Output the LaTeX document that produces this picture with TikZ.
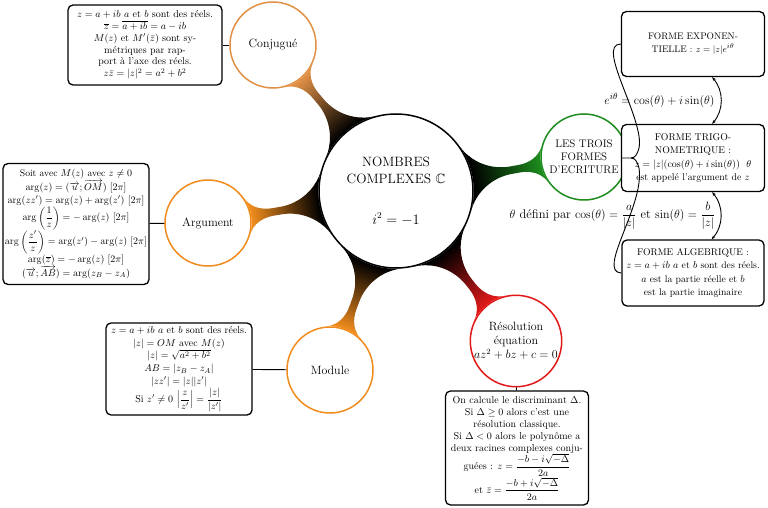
\documentclass[tikz,border=0pt]{standalone}
\usepackage{amsmath,amssymb}
\usetikzlibrary{mindmap,backgrounds,arrows.meta}
\definecolor{conjcol}{RGB}{225,145,70}
\definecolor{orcol}{RGB}{240,140,30}
\definecolor{redcol}{RGB}{225,25,25}
\definecolor{greencol}{RGB}{30,140,30}
\tikzset{
  bubble/.style={circle, draw=#1, fill=white, line width=1.5pt, minimum size=86pt, inner sep=0pt, align=center, font=\fontsize{12}{14}\selectfont},
  infobox/.style={draw=black, rounded corners=5pt, line width=1.3pt, fill=white, align=center, inner sep=0.5pt, font=\fontsize{10}{11.8}\selectfont},
  link/.style={line width=0.9pt},
  bar/.style args={#1/#2/#3}{circle connection bar switch color=from (black) to (#1), decoration={start radius=#2, end radius=#3, amplitude=3.5pt, angle=25}}
}
\begin{document}
\begin{tikzpicture}[x=1pt,y=-1pt]
\useasboundingbox (0,0) rectangle (768,508);
% central and concept nodes
\node[bubble=black, minimum size=154pt, font=\fontsize{13.5}{17}\selectfont] (center) at (396,191) {NOMBRES\\COMPLEXES $\mathbb{C}$\\[24pt] $i^2=-1$};
\node[bubble=conjcol] (conj) at (273,45) {Conjugué};
\node[bubble=orcol] (arg) at (208,223) {Argument};
\node[bubble=orcol] (mod) at (330,370) {Module};
\node[bubble=redcol, minimum size=90pt] (res) at (516,341) {Résolution\\équation\\$az^2+bz+c=0$};
\node[bubble=greencol, minimum size=86pt, font=\fontsize{11}{13}\selectfont] (trois) at (584,157) {LES TROIS\\FORMES\\D'ECRITURE};
% connection bars
\begin{scope}[on background layer]
\path (center) to[bar=conjcol/77pt/43pt] (conj);
\path (center) to[bar=orcol/77pt/43pt] (arg);
\path (center) to[bar=orcol/77pt/43pt] (mod);
\path (center) to[bar=redcol/77pt/45pt] (res);
\path (center) to[bar=greencol/77pt/43pt] (trois);
\end{scope}
% boxes
\node[infobox, minimum width=154pt, minimum height=80pt] (conjbox) at (145,45) {$z=a+ib$ $a$ et $b$ sont des réels.\\
$\overline{z} = \overline{a+ib} = a-ib$\\
$M(z)$ et $M'(\bar z)$ sont sy-\\
métriques par rap-\\
port à l'axe des réels.\\
$z\bar z = |z|^2 = a^2+b^2$};
\node[infobox, minimum width=146pt, minimum height=121pt, font=\fontsize{9.6}{12.6}\selectfont] (argbox) at (76,224) {Soit avec $M(z)$ avec $z\neq 0$\\
$\arg(z) = (\overrightarrow{u};\overrightarrow{OM})\ [2\pi]$\\
$\arg(zz') = \arg(z)+\arg(z')\ [2\pi]$\\
$\arg\left(\dfrac{1}{z}\right) = -\arg(z)\ [2\pi]$\\
$\arg\left(\dfrac{z'}{z}\right) = \arg(z')-\arg(z)\ [2\pi]$\\
$\arg(\overline{z}) = -\arg(z)\ [2\pi]$\\
$(\overrightarrow{u};\overrightarrow{AB}) = \arg(z_B - z_A)$};
\node[infobox, minimum width=146pt, minimum height=92pt, font=\fontsize{10}{12.8}\selectfont] (modbox) at (179,369) {$z=a+ib$ $a$ et $b$ sont des réels.\\
$|z| = OM$ avec $M(z)$\\
$|z| = \sqrt{a^2+b^2}$\\
$AB = |z_B - z_A|$\\
$|zz'| = |z||z'|$\\
Si $z'\neq 0$ $\left|\dfrac{z}{z'}\right| = \dfrac{|z|}{|z'|}$};
\node[infobox, minimum width=143pt, minimum height=114pt, font=\fontsize{10}{12}\selectfont] (resbox) at (517,448) {On calcule le discriminant $\Delta$.\\
Si $\Delta\geq 0$ alors c'est une\\
résolution classique.\\
Si $\Delta<0$ alors le polynôme a\\
deux racines complexes conju-\\
guées : $z = \dfrac{-b-i\sqrt{-\Delta}}{2a}$\\
et $\bar z = \dfrac{-b+i\sqrt{-\Delta}}{2a}$};
\node[infobox, minimum width=143pt, minimum height=65pt, font=\fontsize{9.5}{13}\selectfont] (expo) at (693,44) {FORME EXPONEN-\\TIELLE : $z = |z|e^{i\theta}$};
\node[infobox, minimum width=143pt, minimum height=67pt, font=\fontsize{9.8}{13.2}\selectfont] (trigo) at (693,158) {FORME TRIGO-\\NOMETRIQUE :\\$z = |z|(\cos(\theta)+i\sin(\theta))$\ \ $\theta$\\est appelé l'argument de $z$};
\node[infobox, minimum width=142pt, minimum height=66pt, font=\fontsize{9.7}{13.3}\selectfont] (alg) at (693,273) {FORME ALGEBRIQUE :\\$z=a+ib$ $a$ et $b$ sont des réels.\\$a$ est la partie réelle et $b$\\est la partie imaginaire};
% links concept -> box
\draw[link] (conj) -- (conjbox);
\draw[link] (arg) -- (argbox);
\draw[link] (mod) -- (modbox);
\draw[link] (res) -- (resbox);
% brace
\coordinate (tip) at (trigo.west);
\coordinate (knot) at ([xshift=10pt]trigo.west);
\draw[link] (expo.west) .. controls (595,44) and (645,120) .. (639,148) .. controls (637,155) and (635,158) .. (knot) -- (tip);
\draw[link] (knot) .. controls (635,158) and (637,161) .. (639,168) .. controls (645,205) and (596,272) .. (alg.west);
% arrows between forms
\coordinate (e1) at ([xshift=-53pt]expo.south east);
\coordinate (t1) at ([xshift=-53pt]trigo.north east);
\coordinate (t2) at ([xshift=-53pt]trigo.south east);
\coordinate (a1) at ([xshift=-53pt]alg.north east);
\draw[link, {Stealth[length=4pt]}-{Stealth[length=4pt]}] (e1) to[bend left=40] node[left=5pt, inner sep=1pt, font=\fontsize{13}{15}\selectfont] {$e^{i\theta} = \cos(\theta)+i\sin(\theta)$} (t1);
\draw[link, {Stealth[length=4pt]}-{Stealth[length=4pt]}] (t2) to[bend left=40] node[left=4pt, inner sep=1pt, font=\fontsize{12.6}{14}\selectfont] {$\theta$ défini par $\cos(\theta) = \dfrac{a}{|z|}$ et $\sin(\theta) = \dfrac{b}{|z|}$} (a1);
\end{tikzpicture}
\end{document}
